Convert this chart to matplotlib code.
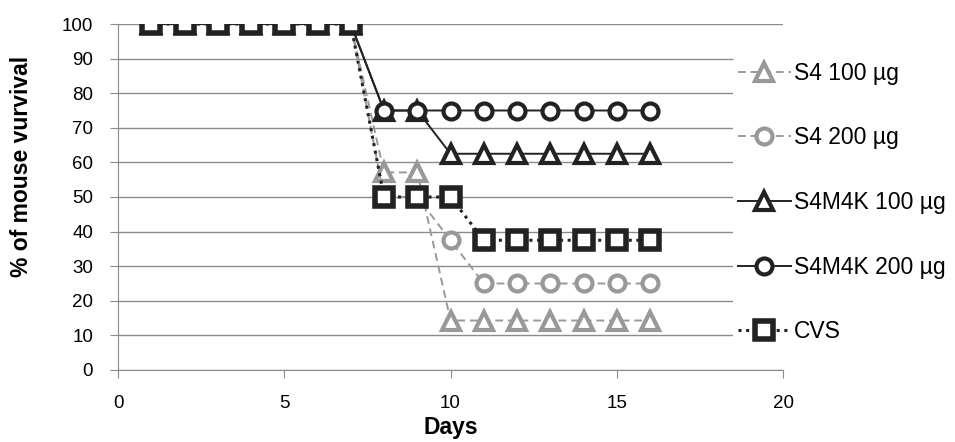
import matplotlib.pyplot as plt

plt.rcParams['font.family'] = ['Liberation Sans', 'DejaVu Sans']

days = list(range(1, 17))
s4_100 = [100] * 7 + [57.1, 57.1] + [14.3] * 7
s4_200 = [100] * 7 + [50, 50, 37.5] + [25] * 6
s4m4k_100 = [100] * 7 + [75, 75] + [62.5] * 7
s4m4k_200 = [100] * 7 + [75] * 9
cvs = [100] * 7 + [50, 50, 50] + [37.5] * 6

gray = '#999999'
dark = '#222222'

fig = plt.figure(figsize=(9.55, 4.42), dpi=100)
ax = fig.add_axes([0.1236, 0.1629, 0.6963, 0.7828])

ax.plot(days, s4_100, color=gray, ls=(0, (4, 2.5)), lw=1.4, marker='^', ms=13,
        mfc='white', mec=gray, mew=3, label='S4 100 µg', zorder=3)
ax.plot(days, s4_200, color=gray, ls=(0, (4, 2.5)), lw=1.4, marker='o', ms=11.5,
        mfc='white', mec=gray, mew=3, label='S4 200 µg', zorder=3)
ax.plot(days, s4m4k_100, color=dark, ls='-', lw=1.4, marker='^', ms=13,
        mfc='white', mec=dark, mew=3, label='S4M4K 100 µg', zorder=4)
ax.plot(days, s4m4k_200, color=dark, ls='-', lw=1.4, marker='o', ms=11.5,
        mfc='white', mec=dark, mew=3, label='S4M4K 200 µg', zorder=4)
ax.plot(days, cvs, color=dark, ls=(0, (1, 1.5)), lw=2.2, marker='s', ms=12.5,
        mfc='white', mec=dark, mew=4, label='CVS', zorder=5)

ax.set_xlim(0, 20)
ax.set_ylim(0, 100)
ax.set_xticks([0, 5, 10, 15, 20])
ax.set_yticks(range(0, 101, 10))
ax.yaxis.grid(True, color='#8c8c8c', lw=1)
ax.set_axisbelow(True)
for s in ['top', 'right']:
    ax.spines[s].set_visible(False)
for s in ['left', 'bottom']:
    ax.spines[s].set_color('#8c8c8c')
ax.tick_params(axis='both', labelsize=13.5, color='#8c8c8c', length=6, direction='out')
ax.tick_params(axis='y', pad=12)
ax.tick_params(axis='x', pad=12)
ax.set_xlabel('Days', fontsize=16.5, fontweight='bold')
ax.set_ylabel('% of mouse vurvival', fontsize=16.5, fontweight='bold')
ax.xaxis.set_label_coords(0.5, -0.132)
ax.yaxis.set_label_coords(-0.128, 0.587)

leg = fig.legend(loc='upper left', bbox_to_anchor=(0.756, 0.897), fontsize=16.5,
                 frameon=True, labelspacing=1.82, handlelength=2.3, handletextpad=0.15,
                 borderpad=0.2)
leg.get_frame().set_edgecolor('none')
leg.get_frame().set_facecolor('white')
leg.get_frame().set_alpha(1)

fig.savefig('out.png', dpi=100)
